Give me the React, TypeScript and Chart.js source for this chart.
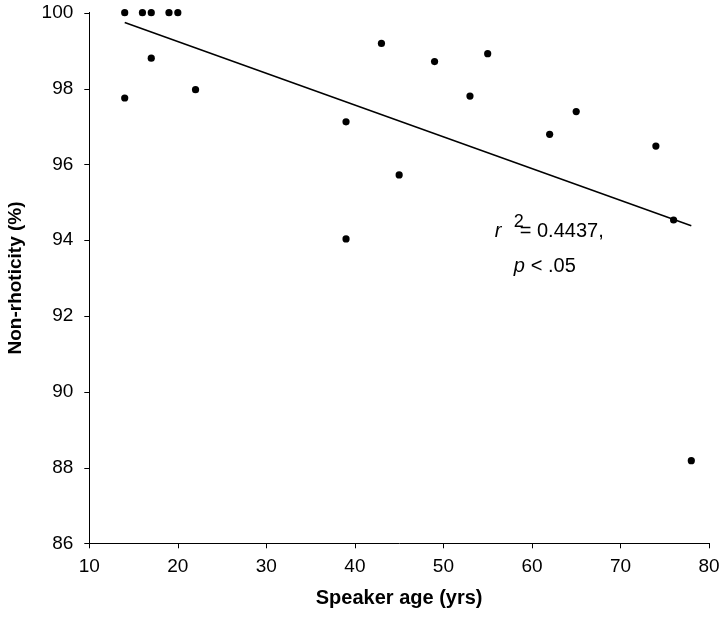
import React, { useEffect, useRef } from "react";
import { Chart, registerables } from "chart.js";

Chart.register(...registerables);

// Speaker ages (years)
const ages = [14, 14, 16, 17, 17, 19, 20, 22, 39, 39, 43, 45, 49, 53, 55, 62, 65, 74, 76, 78];
// Non-rhoticity (%)
const nonRhoticity = [100, 97.75, 100, 100, 98.8, 100, 100, 97.97, 97.12, 94.03, 99.19, 95.72, 98.71, 97.8, 98.92, 96.79, 97.39, 96.48, 94.53, 88.18];

// Regression line endpoints
const fitAges = [14, 78];
const fitValues = [99.74, 94.38];

const xTicks = [10, 20, 30, 40, 50, 60, 70, 80];
const yTicks = [86, 88, 90, 92, 94, 96, 98, 100];

const xTitle = "Speaker age (yrs)";
const yTitle = "Non-rhoticity (%)";

const FONT = "'Liberation Sans', Arial, Helvetica, sans-serif";
const TICK_LEN = 5;

const tickMarksPlugin = {
  id: "tickMarks",
  afterDraw(chart: any) {
    const { ctx, scales } = chart;
    const xs = scales.x;
    const ys = scales.y;
    ctx.save();
    ctx.strokeStyle = "#000";
    ctx.lineWidth = 1;
    ctx.beginPath();
    xTicks.forEach((v) => {
      const px = Math.round(xs.getPixelForValue(v)) + 0.5;
      ctx.moveTo(px, xs.top);
      ctx.lineTo(px, xs.top + TICK_LEN);
    });
    yTicks.forEach((v) => {
      const py = Math.round(ys.getPixelForValue(v)) + 0.5;
      ctx.moveTo(ys.right - TICK_LEN, py);
      ctx.lineTo(ys.right, py);
    });
    ctx.stroke();
    ctx.restore();
  },
};

const annotationPlugin = {
  id: "statsAnnotation",
  afterDatasetsDraw(chart: any) {
    const { ctx, scales } = chart;
    const xs = scales.x;
    const ys = scales.y;
    const x0 = xs.getPixelForValue(55.8);
    const y1 = ys.getPixelForValue(94.07);
    const y2 = ys.getPixelForValue(93.15);
    ctx.save();
    ctx.fillStyle = "#000";
    ctx.textBaseline = "alphabetic";
    ctx.textAlign = "left";
    ctx.font = `italic 20px ${FONT}`;
    ctx.fillText("r", x0, y1);
    ctx.font = `18px ${FONT}`;
    ctx.fillText("2", x0 + 19, y1 - 10);
    ctx.font = `20px ${FONT}`;
    ctx.fillText("= 0.4437,", x0 + 25, y1);
    ctx.font = `italic 20px ${FONT}`;
    ctx.fillText("p", x0 + 19, y2);
    ctx.font = `20px ${FONT}`;
    ctx.fillText("< .05", x0 + 36, y2);
    ctx.restore();
  },
};

export default function App() {
  const ref = useRef<HTMLCanvasElement | null>(null);

  useEffect(() => {
    document.body.style.margin = "0";
    const canvas = ref.current;
    if (!canvas) return;
    const chart = new Chart(canvas, {
      type: "scatter",
      data: {
        datasets: [
          {
            label: "Speakers",
            data: ages.map((a, i) => ({ x: a, y: nonRhoticity[i] })),
            backgroundColor: "#000",
            borderWidth: 0,
            pointRadius: 3.6,
            pointHoverRadius: 3.6,
            clip: false,
          } as any,
          {
            label: "Fit",
            data: fitAges.map((a, i) => ({ x: a, y: fitValues[i] })),
            showLine: true,
            borderColor: "#000",
            borderWidth: 1.5,
            pointRadius: 0,
            fill: false,
            clip: false,
          } as any,
        ],
      },
      options: {
        responsive: false,
        animation: false,
        events: [],
        layout: { padding: { top: 12.7, right: 14, bottom: 0, left: 0 } },
        plugins: {
          legend: { display: false },
          tooltip: { enabled: false },
          title: { display: false },
        },
        scales: {
          x: {
            type: "linear",
            min: 10,
            max: 80,
            afterBuildTicks: (s: any) => {
              s.ticks = xTicks.map((v) => ({ value: v }));
            },
            afterFit: (s: any) => {
              s.height = 75.7;
              s.paddingLeft = 0;
              s.paddingRight = 0;
            },
            grid: { display: false },
            border: { display: true, color: "#000", width: 1 },
            ticks: {
              color: "#000",
              padding: 4,
              maxRotation: 0,
              font: { family: FONT, size: 19 },
            },
            title: {
              display: true,
              text: xTitle,
              color: "#000",
              font: { family: FONT, size: 20, weight: "bold" },
              padding: { top: 0, bottom: 9 },
            },
          },
          y: {
            type: "linear",
            min: 86,
            max: 100,
            afterBuildTicks: (s: any) => {
              s.ticks = yTicks.map((v) => ({ value: v }));
            },
            afterFit: (s: any) => {
              s.width = 89.3;
              s.paddingTop = 0;
              s.paddingBottom = 0;
            },
            grid: { display: false },
            border: { display: true, color: "#000", width: 1 },
            ticks: {
              color: "#000",
              padding: 8,
              font: { family: FONT, size: 19 },
            },
            title: {
              display: true,
              text: yTitle,
              color: "#000",
              font: { family: FONT, size: 19, weight: "bold" },
              padding: { top: 4, bottom: 0 },
            },
          },
        },
      },
      plugins: [annotationPlugin, tickMarksPlugin],
    });
    return () => chart.destroy();
  }, []);

  return (
    <div style={{ width: 723, height: 619, background: "#fff" }}>
      <canvas ref={ref} width={723} height={619} style={{ display: "block" }} />
    </div>
  );
}
